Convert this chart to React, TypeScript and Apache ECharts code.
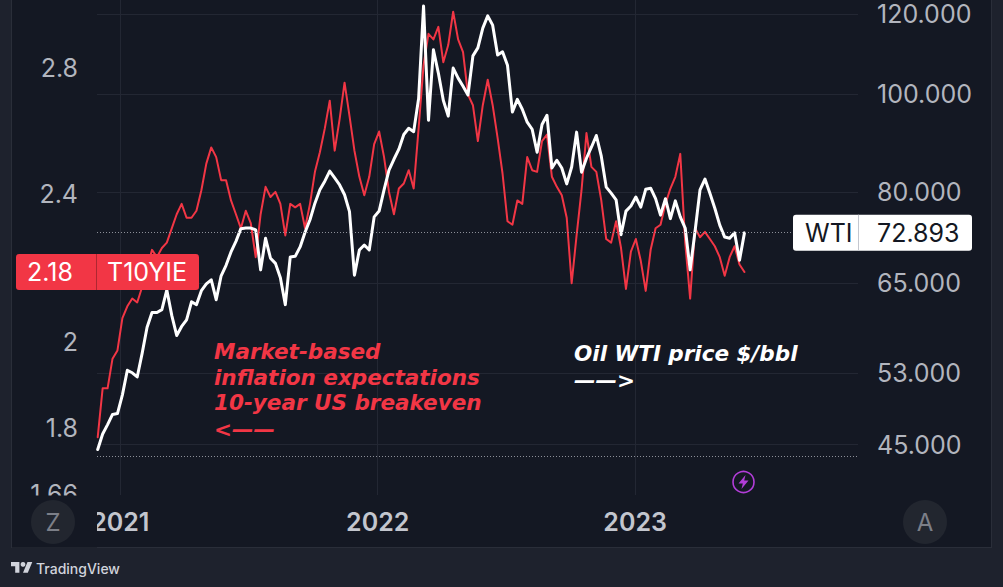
import { useEffect, useRef } from 'react'
import * as echarts from 'echarts'

// weekly closes (Mondays)
const weeks = [
  '2020-11-30', '2020-12-07', '2020-12-14', '2020-12-21', '2020-12-28',
  '2021-01-04', '2021-01-11', '2021-01-18', '2021-01-25', '2021-02-01', '2021-02-08', '2021-02-15', '2021-02-22',
  '2021-03-01', '2021-03-08', '2021-03-15', '2021-03-22', '2021-03-29', '2021-04-05', '2021-04-12', '2021-04-19',
  '2021-04-26', '2021-05-03', '2021-05-10', '2021-05-17', '2021-05-24', '2021-05-31', '2021-06-07', '2021-06-14',
  '2021-06-21', '2021-06-28', '2021-07-05', '2021-07-12', '2021-07-19', '2021-07-26', '2021-08-02', '2021-08-09',
  '2021-08-16', '2021-08-23', '2021-08-30', '2021-09-06', '2021-09-13', '2021-09-20', '2021-09-27', '2021-10-04',
  '2021-10-11', '2021-10-18', '2021-10-25', '2021-11-01', '2021-11-08', '2021-11-15', '2021-11-22', '2021-11-29',
  '2021-12-06', '2021-12-13', '2021-12-20', '2021-12-27',
  '2022-01-03', '2022-01-10', '2022-01-17', '2022-01-24', '2022-01-31', '2022-02-07', '2022-02-14', '2022-02-21',
  '2022-02-28', '2022-03-07', '2022-03-14', '2022-03-21', '2022-03-28', '2022-04-04', '2022-04-11', '2022-04-18',
  '2022-04-25', '2022-05-02', '2022-05-09', '2022-05-16', '2022-05-23', '2022-05-30', '2022-06-06', '2022-06-13',
  '2022-06-20', '2022-06-27', '2022-07-04', '2022-07-11', '2022-07-18', '2022-07-25', '2022-08-01', '2022-08-08',
  '2022-08-15', '2022-08-22', '2022-08-29', '2022-09-05', '2022-09-12', '2022-09-19', '2022-09-26', '2022-10-03',
  '2022-10-10', '2022-10-17', '2022-10-24', '2022-10-31', '2022-11-07', '2022-11-14', '2022-11-21', '2022-11-28',
  '2022-12-05', '2022-12-12', '2022-12-19', '2022-12-26',
  '2023-01-02', '2023-01-09', '2023-01-16', '2023-01-23', '2023-01-30', '2023-02-06', '2023-02-13', '2023-02-20',
  '2023-02-27', '2023-03-06', '2023-03-13', '2023-03-20', '2023-03-27', '2023-04-03', '2023-04-10', '2023-04-17',
  '2023-04-24', '2023-05-01', '2023-05-08', '2023-05-15', '2023-05-22', '2023-05-29', '2023-06-05',
]

// 10-year breakeven inflation, %
const t10yie = [
  1.78, 1.89, 1.89, 1.96, 1.98,
  2.06, 2.09, 2.11, 2.10, 2.14,
  2.19, 2.24, 2.22, 2.245, 2.26,
  2.30, 2.34, 2.37, 2.33, 2.33,
  2.35, 2.41, 2.49, 2.54, 2.51,
  2.44, 2.44, 2.38, 2.34, 2.30,
  2.35, 2.315, 2.22, 2.34, 2.42,
  2.39, 2.405, 2.37, 2.28, 2.37,
  2.36, 2.37, 2.30, 2.37, 2.465,
  2.525, 2.60, 2.69, 2.53, 2.63,
  2.75, 2.64, 2.53, 2.45, 2.395,
  2.45, 2.55, 2.59, 2.51, 2.405,
  2.34, 2.415, 2.43, 2.47, 2.415,
  2.60, 2.81, 2.92, 2.90, 2.945,
  2.82, 2.88, 3.00, 2.90, 2.855,
  2.71, 2.675, 2.56, 2.675, 2.76,
  2.675, 2.57, 2.46, 2.32, 2.31,
  2.38, 2.37, 2.51, 2.47, 2.465,
  2.56, 2.58, 2.45, 2.42, 2.395,
  2.33, 2.15, 2.28, 2.41, 2.585,
  2.48, 2.465, 2.38, 2.27, 2.26,
  2.32, 2.245, 2.135, 2.235, 2.27,
  2.21, 2.13, 2.24, 2.30, 2.31,
  2.37, 2.415, 2.45, 2.52, 2.26,
  2.11, 2.30, 2.275, 2.29, 2.27,
  2.25, 2.22, 2.17, 2.22, 2.25,
  2.20, 2.18,
]

// WTI crude, $/bbl
const wti = [
  44.5, 46.1, 47.1, 48.2, 48.3,
  50.4, 53.3, 53.0, 52.5, 55.4,
  58.8, 60.8, 60.8, 61.2, 64.0,
  60.4, 57.7, 58.9, 59.8, 62.3,
  61.9, 63.9, 64.9, 65.5, 62.6,
  66.1, 67.7, 69.8, 71.5, 73.6,
  73.7, 73.7, 73.4, 67.0, 72.0,
  68.8, 68.0, 65.8, 61.9, 69.0,
  69.1, 70.6, 73.0, 75.1, 78.0,
  80.4, 82.0, 83.9, 82.6, 81.3,
  79.5, 76.5, 66.2, 70.1, 70.9,
  70.1, 75.6, 76.6, 80.4, 84.1,
  86.2, 88.2, 91.2, 92.5, 91.8,
  99.0, 122.2, 94.2, 110.6, 104.9,
  98.6, 95.1, 106.1, 103.7, 101.8,
  99.8, 109.1, 111.1, 116.2, 119.5,
  117.0, 109.3, 110.1, 106.8, 96.0,
  98.8, 96.6, 93.8, 92.3, 87.6,
  93.3, 95.3, 84.5, 86.0, 84.5,
  81.5, 84.7, 91.7, 83.7, 86.4,
  88.6, 91.0, 86.8, 80.9, 79.8,
  78.6, 72.6, 76.6, 77.5, 79.1,
  77.3, 80.5, 80.7, 78.8, 75.9,
  78.8, 75.3, 78.4, 75.6, 73.7,
  67.0, 73.2, 80.4, 82.4, 79.8,
  77.1, 74.2, 72.2, 72.0, 72.9,
  68.5, 72.893,
]

// price scale labels (both scales are logarithmic)
const t10Ticks = [1.66, 1.8, 2, 2.4, 2.8]
const wtiTicks = [45, 53, 65, 80, 100, 120]
const yearTicks = ['2021-01-01', '2022-01-01', '2023-01-01']

const t10Range = [1.6581, 3.0436]
const wtiRange = [40.12, 123.9]
const dateRange = ['2020-11-29', '2023-11-13']

const t10Last = 2.18
const wtiLast = 72.893
const wtiLowLine = 44

const breakevenNote = ['Market-based', 'inflation expectations', '10-year US breakeven', '<——']
const oilNote = ['Oil WTI price $/bbl', '——>']

const RED = '#f23645'
const PANEL = '#141823'
const OUTER = '#1e222d'
const GRID = '#232733'
const AXIS_TEXT = '#b2b5be'
const FONT = 'Inter'

const tvLogoPath = 'M14 22H7V11H0V4h14v18zM28 22h-8l7.5-18h8L28 22z'
echarts.graphic.registerShape('tvlogo', echarts.graphic.extendPath(tvLogoPath, {}))

// days since 2021-01-01
const dayOf = (d: string) => (Date.parse(d + 'T00:00:00Z') - Date.parse('2021-01-01T00:00:00Z')) / 86400000

export default function App() {
  const chartRef = useRef<HTMLDivElement>(null)

  useEffect(() => {
    if (!chartRef.current) return
    const chart = echarts.init(chartRef.current, null, { renderer: 'svg' })
    const ln = Math.log
    const yearDays = yearTicks.map(dayOf)

    const axisFont = { color: AXIS_TEXT, fontSize: 25, fontFamily: FONT }

    const option: any = {
      animation: false,
      backgroundColor: 'transparent',
      textStyle: { fontFamily: FONT },
      grid: { left: 97, right: 145, top: 0, bottom: 92, containLabel: false, outerBoundsMode: 'none' },
      xAxis: {
        type: 'value',
        min: dayOf(dateRange[0]),
        max: dayOf(dateRange[1]),
        axisLine: { show: false },
        axisTick: { show: false, customValues: yearDays },
        axisLabel: {
          customValues: yearDays,
          formatter: (v: number) => {
            const i = yearDays.indexOf(v)
            return i < 0 ? '' : yearTicks[i].slice(0, 4)
          },
          color: '#c3c6ce',
          fontSize: 25,
          fontWeight: 600,
          fontFamily: FONT,
          margin: 14,
        },
        splitLine: { show: true, lineStyle: { color: GRID, width: 1 } },
      },
      yAxis: [
        {
          type: 'value',
          position: 'left',
          min: ln(t10Range[0]),
          max: ln(t10Range[1]),
          axisLine: { show: false },
          axisTick: { show: false, customValues: t10Ticks.map(ln) },
          axisLabel: {
            ...axisFont,
            margin: 19,
            customValues: t10Ticks.map(ln),
            formatter: (v: number) => String(+Math.exp(v).toFixed(2)),
          },
          splitLine: { show: false },
        },
        {
          type: 'value',
          position: 'right',
          min: ln(wtiRange[0]),
          max: ln(wtiRange[1]),
          axisLine: { show: false },
          axisTick: { show: false, customValues: wtiTicks.map(ln) },
          axisLabel: {
            ...axisFont,
            margin: 19,
            customValues: wtiTicks.map(ln),
            formatter: (v: number) => Math.exp(v).toFixed(3),
          },
          splitLine: { show: true, lineStyle: { color: GRID, width: 1 } },
        },
      ],
      series: [
        {
          name: 'T10YIE',
          type: 'line',
          yAxisIndex: 0,
          data: weeks.map((d, i) => [dayOf(d), ln(t10yie[i])]),
          symbol: 'none',
          lineStyle: { color: RED, width: 2, join: 'round', cap: 'round' },
          emphasis: { disabled: true },
          z: 2,
        },
        {
          name: 'WTI',
          type: 'line',
          yAxisIndex: 1,
          data: weeks.map((d, i) => [dayOf(d), ln(wti[i])]),
          symbol: 'none',
          lineStyle: { color: '#ffffff', width: 3, join: 'round', cap: 'round' },
          emphasis: { disabled: true },
          z: 3,
          markLine: {
            silent: true,
            symbol: 'none',
            label: { show: false },
            lineStyle: { color: '#8c8f98', type: [1, 2], width: 1 },
            data: [{ yAxis: ln(wtiLast) }, { yAxis: ln(wtiLowLine) }],
          },
        },
      ],
    }

    chart.setOption(option)

    const yT = chart.convertToPixel({ yAxisIndex: 0 }, ln(t10Last)) as number
    const yW = chart.convertToPixel({ yAxisIndex: 1 }, ln(wtiLast)) as number

    const label = (text: string, x: number, y: number, fill: string, extra: any = {}) => ({
      type: 'text',
      x,
      y,
      z: 120,
      style: { text, fill, fontSize: 25, fontFamily: FONT, align: 'left', verticalAlign: 'middle', ...extra },
    })
    const note = { fontFamily: 'DejaVu Sans', fontSize: 21.5, fontWeight: 'bold', fontStyle: 'italic', lineHeight: 24 }

    chart.setOption({
      graphic: [
        // the time scale hides what falls under the left price scale
        { type: 'rect', z: 100, shape: { x: 12, y: 495.5, width: 85, height: 52 }, style: { fill: PANEL } },
        { type: 'circle', z: 110, shape: { cx: 53, cy: 522, r: 22 }, style: { fill: '#22262f' } },
        label('Z', 53, 522, '#7c7f88', { align: 'center', fontSize: 24 }),
        { type: 'circle', z: 110, shape: { cx: 925, cy: 522, r: 22 }, style: { fill: '#22262f' } },
        label('A', 925, 522, '#7c7f88', { align: 'center', fontSize: 24 }),

        // event marker
        { type: 'circle', z: 110, shape: { cx: 743.5, cy: 482, r: 10.5 }, style: { fill: 'none', stroke: '#b23dd8', lineWidth: 1.6 } },
        {
          type: 'polygon',
          z: 111,
          shape: { points: [[745.5, 475], [738.5, 483.5], [742.8, 483.5], [741.5, 489], [748.5, 480.5], [744.2, 480.5]] },
          style: { fill: '#b23dd8' },
        },

        // last value tags
        { type: 'rect', z: 110, shape: { x: 16, y: yT - 18, width: 183, height: 36, r: 3 }, style: { fill: RED } },
        { type: 'rect', z: 111, shape: { x: 96, y: yT - 18, width: 1, height: 36 }, style: { fill: 'rgba(0,0,0,0.28)' } },
        label(t10Last.toFixed(2), 27, yT, '#ffffff'),
        label('T10YIE', 107, yT, '#ffffff'),
        { type: 'rect', z: 110, shape: { x: 793, y: yW - 18, width: 179, height: 36, r: 3 }, style: { fill: '#ffffff' } },
        { type: 'rect', z: 111, shape: { x: 858, y: yW - 18, width: 1, height: 36 }, style: { fill: '#c4c7cf' } },
        label('WTI', 805, yW, '#131722'),
        label(wtiLast.toFixed(3), 877, yW, '#131722'),

        // annotations
        ...breakevenNote.map((t, i) => label(t, 214, [351.5, 377, 402.5, 429][i], RED, note)),
        ...oilNote.map((t, i) => label(t, 574, [353.5, 380][i], '#ffffff', note)),

        // footer
        { type: 'tvlogo', z: 120, x: 11, y: 559.6, scaleX: 0.6, scaleY: 0.6, style: { fill: '#d1d4dc' } },
        { type: 'circle', z: 120, shape: { cx: 23, cy: 564.4, r: 2.4 }, style: { fill: '#d1d4dc' } },
        label('TradingView', 36, 568, '#d1d4dc', { fontSize: 14, fontWeight: 500 }),
      ],
    })

    return () => {
      chart.dispose()
    }
  }, [])

  return (
    <div style={{ position: 'absolute', left: 0, top: 0, width: 1003, height: 587, background: OUTER, overflow: 'hidden' }}>
      <div
        style={{
          position: 'absolute',
          left: 11,
          top: -1,
          width: 981,
          height: 549,
          boxSizing: 'border-box',
          background: PANEL,
          border: '1px solid #2a2e39',
        }}
      />
      <div ref={chartRef} style={{ position: 'absolute', left: 0, top: 0, width: 1003, height: 587 }} />
    </div>
  )
}
